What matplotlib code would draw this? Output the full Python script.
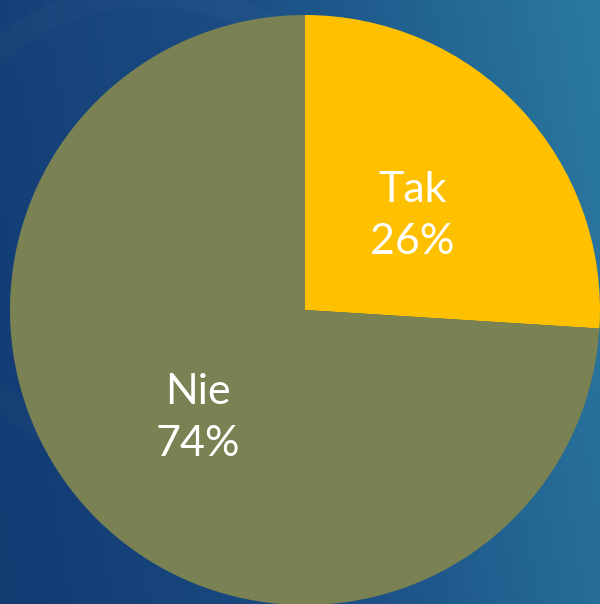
import numpy as np
import matplotlib.pyplot as plt
from matplotlib.colors import LinearSegmentedColormap

# --- data ---
categories = ['Tak', 'Nie']
shares = [26, 74]
colors = ['#FFC000', '#7A8152']

W, H = 600, 604
fig = plt.figure(figsize=(W / 100, H / 100), dpi=100)
ax = fig.add_axes([0, 0, 1, 1])

# blue gradient background (dark left/bottom -> teal right/top)
xx, yy = np.meshgrid(np.linspace(0, 1, 200), np.linspace(0, 1, 200))
g = 0.85 * xx + 0.15 * yy
bg = LinearSegmentedColormap.from_list('bg', ['#123b72', '#1b4e85', '#2a7aa0'])
ax.imshow(g, cmap=bg, extent=[0, W, 0, H], origin='lower', aspect='auto', zorder=0)

# faint decorative circle, top-left
circ = plt.Circle((150, 380), 230, fill=False, lw=18, color='white', alpha=0.02, zorder=1)
ax.add_patch(circ)

labels = [f'{c}\n{v}%' for c, v in zip(categories, shares)]
wedges, texts = ax.pie(shares, labels=labels, colors=colors, startangle=90,
                       counterclock=False, center=(305, H - 310), radius=295,
                       labeldistance=0.5, frame=True,
                       wedgeprops=dict(linewidth=0, zorder=2),
                       textprops=dict(color='white', fontsize=31, family='Lato'))
for t in texts:
    t.set_ha('center')
    t.set_va('center')
    t.set_multialignment('center')
    t.set_linespacing(1.45)
    t.set_zorder(3)
    x, y = t.get_position()
    t.set_position((x, y - 7))  # nudge labels down a little

ax.set_xlim(0, W)
ax.set_ylim(0, H)
ax.set_aspect('auto')
ax.axis('off')

fig.savefig('out.png', dpi=100)
